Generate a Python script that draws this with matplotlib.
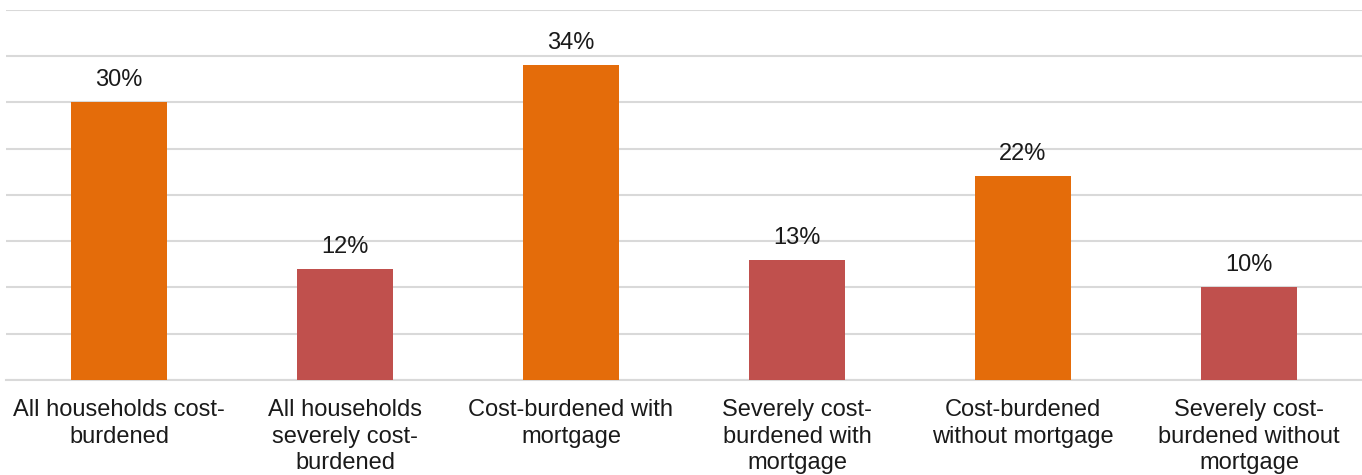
import matplotlib.pyplot as plt
import numpy as np

# data
categories = ["All households cost-\nburdened",
              "All households\nseverely cost-\nburdened",
              "Cost-burdened with\nmortgage",
              "Severely cost-\nburdened with\nmortgage",
              "Cost-burdened\nwithout mortgage",
              "Severely cost-\nburdened without\nmortgage"]
values = [30, 12, 34, 13, 22, 10]
colors = ["#E46C0A", "#C0504D", "#E46C0A", "#C0504D", "#E46C0A", "#C0504D"]

plt.rcParams['font.family'] = ['Liberation Sans', 'DejaVu Sans']

fig = plt.figure(figsize=(13.62, 4.75), dpi=100)
ax = fig.add_axes([0.0044, 0.2, 0.9956, 0.779])

x = np.arange(len(categories))
bars = ax.bar(x, values, width=0.425, color=colors, zorder=3)

# value labels above bars
for xi, v in zip(x, values):
    ax.annotate("%d%%" % v, (xi, v), xytext=(0, 8), textcoords="offset points",
                ha="center", va="bottom", fontsize=17, color="#1a1a1a")

ax.set_xlim(-0.5, len(categories) - 0.5)
ax.set_ylim(0, 40)
ax.set_yticks(np.arange(0, 41, 5))
ax.yaxis.grid(True, color="#D9D9D9", linewidth=1.5, zorder=0)
ax.tick_params(axis="y", left=False, labelleft=False)
ax.set_xticks(x)
ax.set_xticklabels(categories, fontsize=17, color="#1a1a1a", linespacing=1.25)
ax.tick_params(axis="x", length=0, pad=14)

for s in ["top", "right", "left"]:
    ax.spines[s].set_visible(False)
ax.spines["bottom"].set_color("#D9D9D9")
ax.spines["bottom"].set_linewidth(1.5)

fig.savefig("out.png", dpi=100)
